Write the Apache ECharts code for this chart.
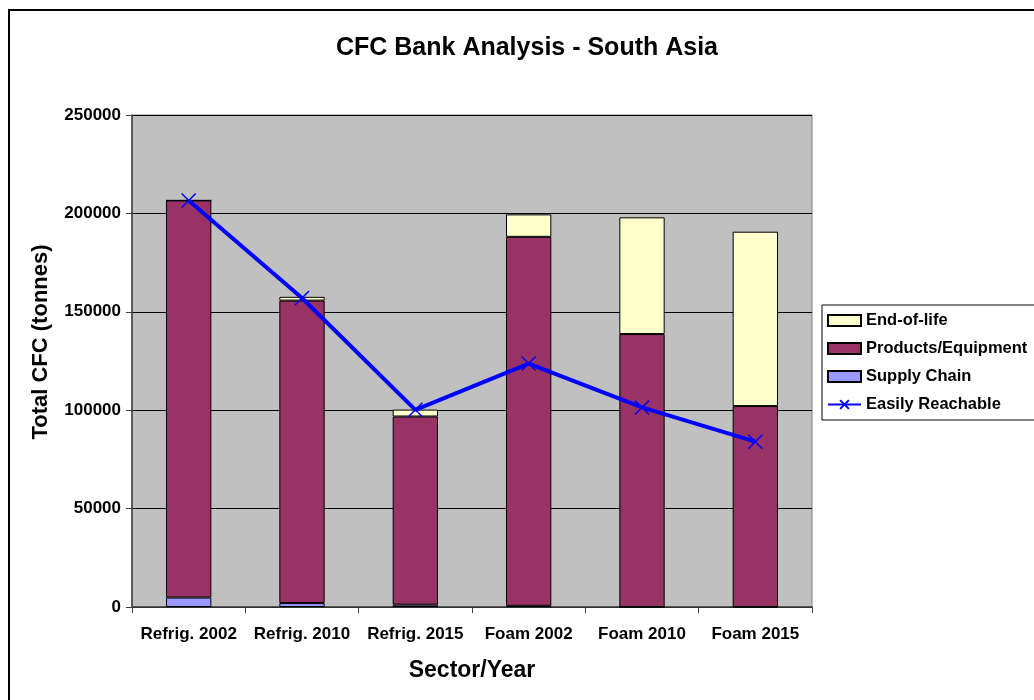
<!DOCTYPE html>
<html>
<head>
<meta charset="utf-8">
<script src="https://cdn.jsdelivr.net/npm/echarts@6/dist/echarts.min.js"></script>
<style>html,body{margin:0;padding:0;background:#fff}#c{width:1034px;height:700px}</style>
</head>
<body>
<div id="c"></div>
<script>
const categories = ['Refrig. 2002', 'Refrig. 2010', 'Refrig. 2015', 'Foam 2002', 'Foam 2010', 'Foam 2015'];
const supplyChain = [4800, 2000, 1200, 600, 0, 0];
const productsEquipment = [201800, 153700, 95600, 187500, 138700, 102100];
const endOfLife = [0, 1900, 3500, 11400, 59300, 88600];
const easilyReachable = [206600, 157000, 100200, 123700, 101400, 84000];
const yTicks = { min: 0, max: 250000, interval: 50000 };

const FONT = '"Liberation Sans", Arial, sans-serif';
const chart = echarts.init(document.getElementById('c'));
const barStyle = (c) => ({ color: c, borderColor: '#000', borderWidth: 1 });
chart.setOption({
  backgroundColor: '#fff',
  animation: false,
  textStyle: { fontFamily: FONT },
  graphic: [{
    type: 'rect', shape: { x: 9, y: 10, width: 1100, height: 800 },
    style: { fill: 'none', stroke: '#000', lineWidth: 2 }, z: 100
  }, {
    type: 'text', x: 41, y: 342, rotation: Math.PI / 2,
    style: { text: 'Total CFC (tonnes)', fill: '#000', font: 'bold 22px "Liberation Sans", Arial, sans-serif', align: 'center', verticalAlign: 'middle' }
  }],
  title: {
    text: 'CFC Bank Analysis - South Asia',
    left: 522, top: 31, textAlign: 'center',
    textStyle: { fontFamily: FONT, fontWeight: 'bold', fontSize: 25, color: '#000' }
  },
  legend: {
    data: [
      { name: 'End-of-life', icon: 'rect' },
      { name: 'Products/Equipment', icon: 'rect' },
      { name: 'Supply Chain', icon: 'rect' },
      { name: 'Easily Reachable' }
    ],
    orient: 'vertical', left: 822, top: 305,
    padding: [7, 10, 7, 5], itemGap: 11, itemWidth: 33, itemHeight: 11,
    borderColor: '#000', borderWidth: 1, backgroundColor: '#fff',
    textStyle: { fontFamily: FONT, fontWeight: 'bold', fontSize: 16.5, color: '#000', lineHeight: 16 }
  },
  grid: {
    left: 132, right: 222, top: 115, bottom: 93,
    show: true, backgroundColor: '#C0C0C0', borderColor: '#808080', borderWidth: 1
  },
  xAxis: {
    type: 'category', data: categories,
    name: 'Sector/Year', nameLocation: 'middle', nameGap: 52,
    nameTextStyle: { fontFamily: FONT, fontWeight: 'bold', fontSize: 23, color: '#000' },
    axisLine: { lineStyle: { color: '#404040', width: 1.5 } },
    axisTick: { show: true, length: 6, lineStyle: { color: '#404040' } },
    axisLabel: { interval: 0, hideOverlap: false, margin: 19, fontFamily: FONT, fontWeight: 'bold', fontSize: 17, color: '#000' }
  },
  yAxis: {
    type: 'value', min: yTicks.min, max: yTicks.max, interval: yTicks.interval,
    axisLine: { show: true, lineStyle: { color: '#404040', width: 1.5 } },
    axisTick: { show: true, length: 6, lineStyle: { color: '#404040' } },
    axisLabel: { margin: 11, fontFamily: FONT, fontWeight: 'bold', fontSize: 17, color: '#000', formatter: (v) => String(v) },
    splitLine: { show: true, lineStyle: { color: '#000', width: 1 } }
  },
  series: [
    { name: 'Supply Chain', type: 'bar', stack: 'cfc', data: supplyChain, barCategoryGap: '60%', itemStyle: barStyle('#9999FF') },
    { name: 'Products/Equipment', type: 'bar', stack: 'cfc', data: productsEquipment, itemStyle: barStyle('#993366') },
    { name: 'End-of-life', type: 'bar', stack: 'cfc', data: endOfLife, itemStyle: barStyle('#FFFFCC') },
    {
      name: 'Easily Reachable', type: 'line', data: easilyReachable,
      symbol: 'path://M0,0L10,10M10,0L0,10', symbolSize: 14,
      lineStyle: { color: '#0000FF', width: 4 },
      itemStyle: { color: '#0000FF', borderColor: '#0000FF', borderWidth: 1.5 },
      z: 10
    }
  ]
});
</script>
</body>
</html>
